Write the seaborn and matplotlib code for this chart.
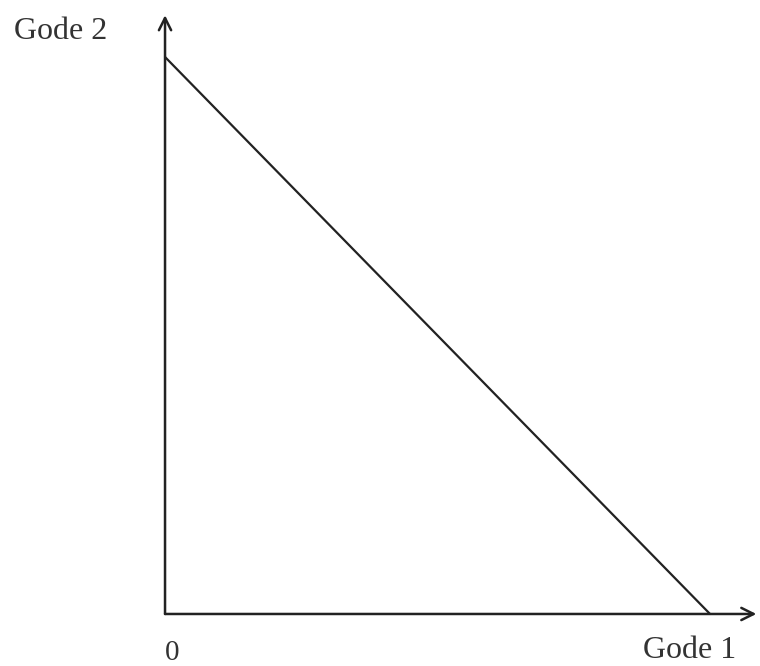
import matplotlib
matplotlib.use("Agg")
import matplotlib.pyplot as plt
import pandas as pd
import seaborn as sns

# budget line: intercepts on each axis
gode1 = [0.0, 1.0]
gode2 = [1.0, 0.0]
axis_labels = ["Gode 1", "Gode 2"]
origin_label = "0"

sns.set_theme(style="white")
plt.rcParams['font.family'] = ['Liberation Serif', 'DejaVu Serif']

df = pd.DataFrame({"x": gode1, "y": gode2})

fig = plt.figure(figsize=(7.6, 6.66), dpi=100)
ax = fig.add_axes([0, 0, 1, 1])

sns.lineplot(data=df, x="x", y="y", color="#222222", linewidth=1.6, ax=ax)

ax.set_xlim(-0.3028, 1.0917)
ax.set_ylim(-0.0934, 1.1023)
ax.axis("off")

# axes with arrows
arrow = dict(arrowstyle="->", color="#222222", linewidth=1.8, mutation_scale=22,
             shrinkA=0, shrinkB=0)
ax.annotate("", xy=(1.085, 0), xytext=(0, 0), arrowprops=arrow)
ax.annotate("", xy=(0, 1.075), xytext=(0, 0), arrowprops=arrow)

ax.text(0.963, -0.065, axis_labels[0], fontsize=23, color="#333333", ha="center", va="center")
ax.text(-0.191, 1.045, axis_labels[1], fontsize=23, color="#333333", ha="center", va="center")
ax.text(0.013, -0.070, origin_label, fontsize=21, color="#333333", ha="center", va="center")

fig.savefig("out.png", dpi=100)
